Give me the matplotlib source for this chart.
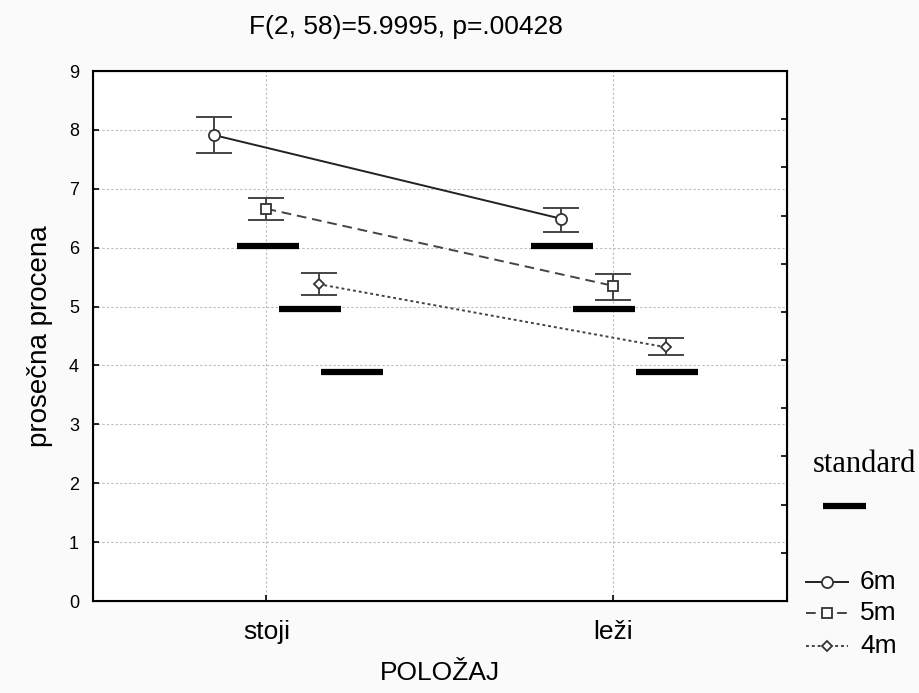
"""
Prosecna procena po polozaju - interaction plot (STATISTICA style)
"""

import numpy as np
import matplotlib.pyplot as plt
from matplotlib.lines import Line2D

SANS = ['Liberation Sans', 'DejaVu Sans']
SERIF = ['Liberation Serif', 'DejaVu Serif']
plt.rcParams['font.family'] = SANS

# Data
positions = ['stoji', 'leži']
distances = ['6m', '5m', '4m']

mean_6m = [7.91, 6.49]
low_6m = [7.61, 6.27]
high_6m = [8.22, 6.67]

mean_5m = [6.66, 5.35]
low_5m = [6.47, 5.11]
high_5m = [6.84, 5.55]

mean_4m = [5.38, 4.31]
low_4m = [5.20, 4.18]
high_4m = [5.57, 4.47]

standard_values = [6.03, 4.96, 3.89]

title_text = 'F(2, 58)=5.9995, p=.00428'

# Layout / style
GROUP_OFFSET = [-0.15, 0.0, 0.15]
STD_OFFSET = {0: [0.005, 0.126, 0.247], 1: [-0.148, -0.027, 0.154]}
STD_WIDTH = 0.18
LINE_STYLES = ['-', (0, (5, 3)), (0, (1.5, 1.5))]
MARKERS = ['o', 's', 'D']
MARKER_SIZES = [8, 7.5, 5.5]
LINE_COLORS = ['#222222', '#444444', '#444444']
ERR_COLOR = '#444444'


def make_plot():
    fig = plt.figure(figsize=(9.2, 6.93), dpi=100, facecolor='#fafafa')
    ax = fig.add_axes([93 / 920, 1 - 601 / 693, (787 - 93) / 920, (601 - 71) / 693])
    ax.set_facecolor('white')

    x = np.arange(1, len(positions) + 1)
    means = [mean_6m, mean_5m, mean_4m]
    lows = [low_6m, low_5m, low_4m]
    highs = [high_6m, high_5m, high_4m]

    # grid
    ax.set_yticks(np.arange(0, 10))
    ax.set_xticks(x)
    ax.set_xticklabels(positions, fontsize=19)
    ax.tick_params(axis='y', labelsize=13, direction='in', length=4, width=1.2, pad=10)
    ax.tick_params(axis='x', direction='in', length=4, width=1.2, pad=14)
    ax.grid(True, color='#bbbbbb', linestyle=(0, (2, 2)), linewidth=0.8)
    ax.set_axisbelow(True)

    # standard bars
    for ci in range(len(positions)):
        for k, val in enumerate(standard_values):
            cx = x[ci] + STD_OFFSET[ci][k]
            ax.hlines(val, cx - STD_WIDTH / 2, cx + STD_WIDTH / 2, color='black',
                      linewidth=4.5, capstyle='butt', zorder=3)

    # means with error bars
    for k in range(len(distances)):
        xs = x + GROUP_OFFSET[k]
        m = np.array(means[k])
        err = [m - np.array(lows[k]), np.array(highs[k]) - m]
        ax.errorbar(xs, m, yerr=err, fmt='none', ecolor=ERR_COLOR, elinewidth=1.4,
                    capsize=13, capthick=1.4, zorder=4)
        ax.plot(xs, m, linestyle=LINE_STYLES[k], color=LINE_COLORS[k], linewidth=1.4,
                marker=MARKERS[k], markersize=MARKER_SIZES[k], markerfacecolor='white',
                markeredgecolor='#333333', markeredgewidth=1.3, zorder=5)

    ax.set_xlim(0.5, 2.5)
    ax.set_ylim(0, 9)
    for sp in ax.spines.values():
        sp.set_linewidth(1.5)

    # right side ticks (inward, no labels)
    ax_r = ax.twinx()
    ax_r.set_ylim(0, 9)
    ax_r.set_yticks(np.linspace(0, 9, 12)[1:-1])
    ax_r.set_yticklabels([])
    ax_r.tick_params(axis='y', direction='in', length=4, width=1.2)

    ax.set_xlabel('POLOŽAJ', fontsize=19, labelpad=12)
    fig.text(40 / 920, 0.515, 'prosečna procena', rotation=90, fontsize=20,
             ha='center', va='center')
    fig.text(406 / 920, 1 - 27 / 693, title_text, fontsize=19, ha='center', va='center')

    # legend: standard
    fig.text(864 / 920, 1 - 465 / 693, 'standard', family=SERIF, fontsize=22,
             ha='center', va='center')
    fig.add_artist(Line2D([823 / 920, 866 / 920], [1 - 506 / 693] * 2, color='black',
                          linewidth=4.5, solid_capstyle='butt', transform=fig.transFigure))

    # legend: distances
    rows_y = [582, 613, 646]
    for k, name in enumerate(distances):
        yy = 1 - rows_y[k] / 693
        fig.add_artist(Line2D([806 / 920, 848 / 920], [yy, yy], linestyle=LINE_STYLES[k],
                              color=LINE_COLORS[k], linewidth=1.4, transform=fig.transFigure))
        fig.add_artist(Line2D([827 / 920], [yy], marker=MARKERS[k], markersize=MARKER_SIZES[k],
                              markerfacecolor='white', markeredgecolor='#333333',
                              markeredgewidth=1.3, linestyle='none', transform=fig.transFigure))
        fig.text(860 / 920, yy, name, fontsize=19, ha='left', va='center')

    fig.savefig('out.png', dpi=100, facecolor=fig.get_facecolor())
    return fig


def main():
    make_plot()


if __name__ == "__main__":
    main()
